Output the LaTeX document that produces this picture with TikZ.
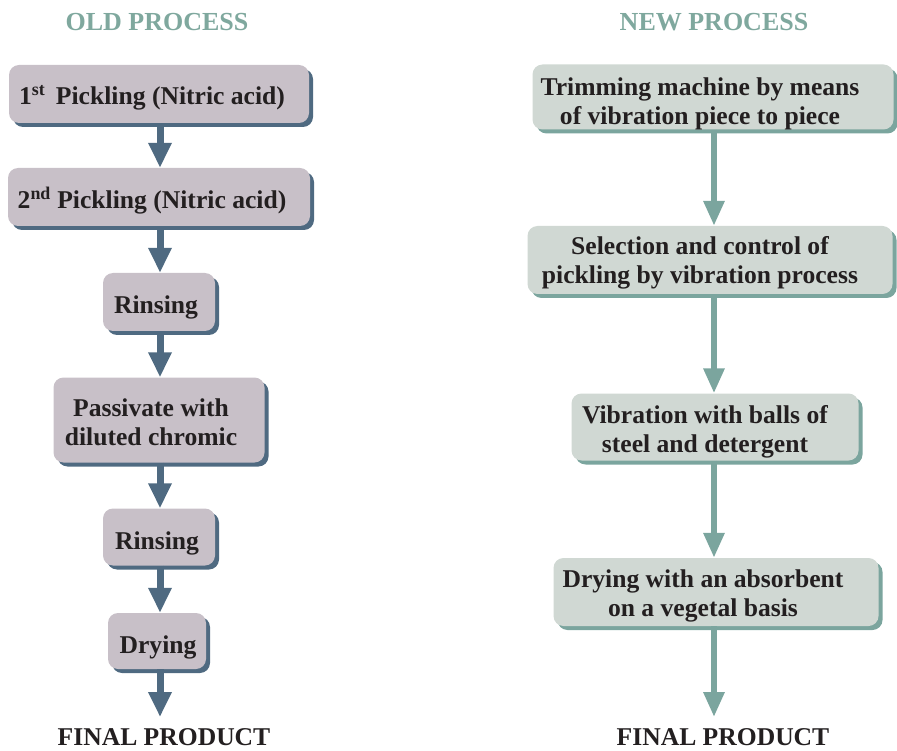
\documentclass[tikz,border=0pt]{standalone}
\usepackage{fontspec}
\setmainfont{Liberation Serif}
\usetikzlibrary{arrows.meta,shadows}

\definecolor{oldfill}{HTML}{C8C0C8}
\definecolor{olddark}{HTML}{4F6A81}
\definecolor{newfill}{HTML}{D0D8D3}
\definecolor{newdark}{HTML}{7BA59E}
\definecolor{titlecol}{HTML}{7FA89E}
\definecolor{ink}{HTML}{231F20}

\tikzset{
    oldbox/.style={rectangle, rounded corners=10pt, fill=oldfill, inner sep=0pt,
        drop shadow={shadow xshift=4pt, shadow yshift=-4pt, fill=olddark, opacity=1}},
    newbox/.style={rectangle, rounded corners=10pt, fill=newfill, inner sep=0pt,
        drop shadow={shadow xshift=4pt, shadow yshift=-4pt, fill=newdark, opacity=1}},
    txt/.style={font=\bfseries\fontsize{25.6}{29}\selectfont, text=ink, align=center, inner sep=0pt},
    heading/.style={font=\bfseries\fontsize{26}{30}\selectfont, text=titlecol},
    oldarrow/.style={draw=olddark, line width=7pt, -{Triangle[width=22pt,length=25pt]}},
    newarrow/.style={draw=newdark, line width=6pt, -{Triangle[width=20pt,length=25pt]}},
}

\begin{document}
\begin{tikzpicture}[x=1pt, y=-1pt]

    \useasboundingbox (0,0) rectangle (897,751);

    %% Old process
    \node[heading] (oldtitle) at (157,22) {OLD PROCESS};

    \node[oldbox, minimum width=300, minimum height=58,
        label={[txt, xshift=-7pt, yshift=-4pt]center:{1\textsuperscript{st}\, Pickling (Nitric acid)}}] (o1) at (159,94) {};
    \node[oldbox, minimum width=302, minimum height=58,
        label={[txt, xshift=-7pt, yshift=-4pt]center:{2\textsuperscript{nd} Pickling (Nitric acid)}}] (o2) at (159,197) {};
    \node[oldbox, minimum width=112, minimum height=58,
        label={[txt, xshift=-3pt, yshift=-5pt]center:{Rinsing}}] (o3) at (159,302) {};
    \node[oldbox, minimum width=211, minimum height=85,
        label={[txt, xshift=-8pt, yshift=-2pt]center:{Passivate with\\diluted chromic}}] (o4) at (159,420) {};
    \node[oldbox, minimum width=112, minimum height=57,
        label={[txt, xshift=-2pt, yshift=-6pt]center:{Rinsing}}] (o5) at (159,537) {};
    \node[oldbox, minimum width=98, minimum height=56,
        label={[txt, xshift=1pt, yshift=-6pt]center:{Drying}}] (o6) at (157,641) {};

    \node[txt] (oldfinal) at (164,737) {FINAL PRODUCT};
    \coordinate (oldend) at (160,717);

    % Old arrows
    \draw[oldarrow] (o1.south -| 160,0) -- (o2.north -| 160,0);
    \draw[oldarrow] (o2.south -| 160,0) -- (o3.north -| 160,0);
    \draw[oldarrow] (o3.south -| 160,0) -- (o4.north -| 160,0);
    \draw[oldarrow] (o4.south -| 160,0) -- (o5.north -| 160,0);
    \draw[oldarrow] (o5.south -| 160,0) -- (o6.north -| 160,0);
    \draw[oldarrow] (o6.south -| 160,0) -- (oldend);

    %% New process
    \node[heading] (newtitle) at (714,22) {NEW PROCESS};

    \node[newbox, minimum width=361, minimum height=65,
        label={[txt, xshift=-13pt, yshift=-7pt]center:{Trimming machine by means\\of vibration piece to piece}}] (n1) at (713,97) {};
    \node[newbox, minimum width=365, minimum height=68,
        label={[txt, xshift=-10pt, yshift=-3pt]center:{Selection and control of\\pickling by vibration process}}] (n2) at (710,260) {};
    \node[newbox, minimum width=287, minimum height=67,
        label={[txt, xshift=-10pt, yshift=-5pt]center:{Vibration with balls of\\steel and detergent}}] (n3) at (715,427) {};
    \node[newbox, minimum width=325, minimum height=68,
        label={[txt, xshift=-13pt, yshift=-4pt]center:{Drying with an absorbent\\on a vegetal basis}}] (n4) at (716,592) {};

    \node[txt] (newfinal) at (723,737) {FINAL PRODUCT};
    \coordinate (newend) at (714,717);

    % New arrows
    \draw[newarrow] (n1.south -| 714,0) -- (n2.north -| 714,0);
    \draw[newarrow] (n2.south -| 714,0) -- (n3.north -| 714,0);
    \draw[newarrow] (n3.south -| 714,0) -- (n4.north -| 714,0);
    \draw[newarrow] (n4.south -| 714,0) -- (newend);

\end{tikzpicture}
\end{document}
